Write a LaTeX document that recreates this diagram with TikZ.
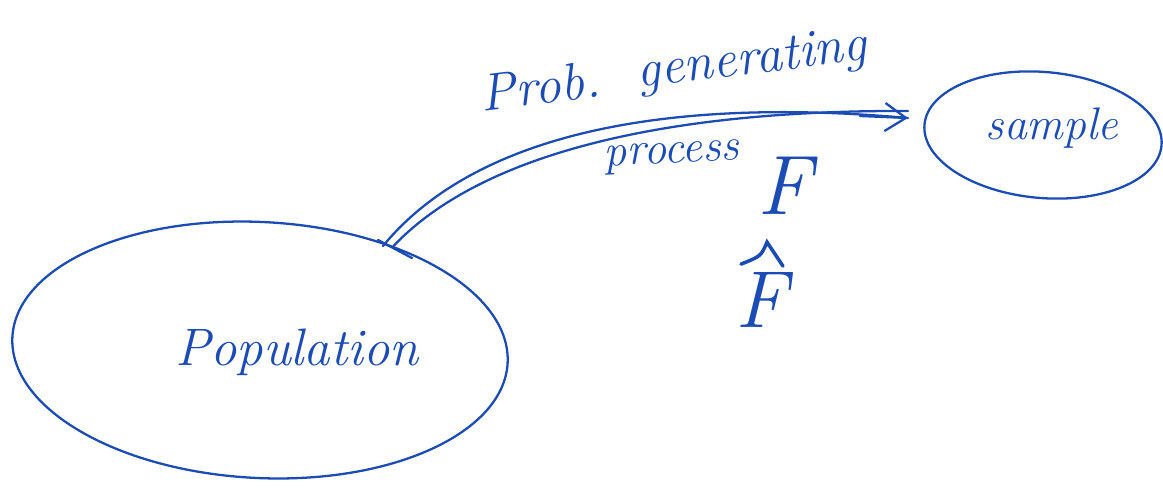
\documentclass[tikz,border=0pt]{standalone}
\usepackage{fontspec}
\usetikzlibrary{arrows.meta,shapes.geometric,calc}
\definecolor{ink}{HTML}{1B4BB5}
\begin{document}
\begin{tikzpicture}[x=0.02cm,y=-0.02cm,
  stroke/.style={draw=ink,line width=1.3pt,line cap=round},
  hand/.style={text=ink,font=\itshape\fontsize{26}{28}\selectfont,inner sep=0pt}]
\useasboundingbox (0,0) rectangle (1163,487);
% population
\node[stroke,ellipse,minimum width=9.92cm,minimum height=5.12cm,rotate=-3] (pop) at (260,350) {};
\node[hand,font=\itshape\fontsize{30}{32}\selectfont] (poptext) at (297,352) {Population};
% sample
\node[stroke,ellipse,minimum width=4.76cm,minimum height=2.52cm,rotate=-5] (samp) at (1043,135) {};
\node[hand,font=\itshape\fontsize{26}{28}\selectfont] (samptext) at (1052,128) {sample};
% arrow
\coordinate (a0) at (383,246);
\coordinate (a1) at (908,118);
\draw[stroke] (a0) .. controls (470,140) and (650,95) .. (a1);
\draw[stroke] ([xshift=6]a0) .. controls (480,155) and (660,110) .. ([yshift=4]a1);
\draw[stroke,-{Straight Barb[length=12pt,width=16pt,line width=1.3pt]}] (860,116) -- (a1);
\draw[stroke] (378,240) -- (412,258);
% labels
\node[hand,font=\itshape\fontsize{30}{32}\selectfont,rotate=7] (lab1a) at (540,86) {Prob.};
\node[hand,font=\itshape\fontsize{30}{32}\selectfont,rotate=7] (lab1b) at (752,62) {generating};
\node[hand,rotate=3] (lab2) at (672,157) {process};
\node[hand,font=\itshape\fontsize{48}{50}\selectfont] (F) at (784,186) {F};
\node[hand,font=\itshape\fontsize{46}{48}\selectfont] (Fhat) at (761,300) {F};
\coordinate (hatL) at ($(Fhat.north)+(-20,-8)$);
\coordinate (hatT) at ($(Fhat.north)+(6,-30)$);
\coordinate (hatR) at ($(Fhat.north)+(22,-6)$);
\draw[stroke,line width=2pt] (hatL) .. controls ($(hatT)+(-6,14)$) .. (hatT) .. controls ($(hatT)+(8,12)$) .. (hatR);
\end{tikzpicture}
\end{document}
